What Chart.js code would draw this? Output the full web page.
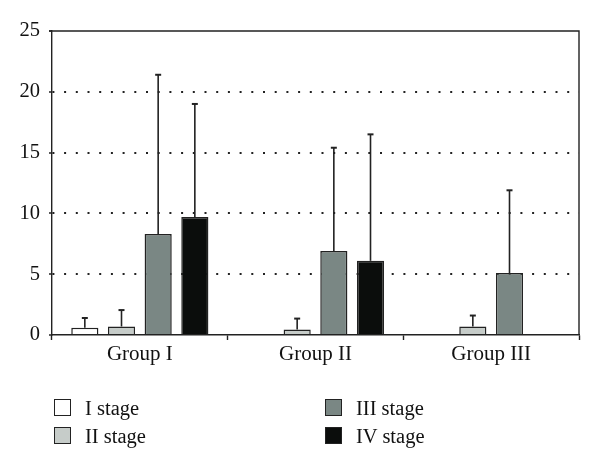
<!DOCTYPE html>
<html>
<head>
<meta charset="utf-8">
<script src="https://cdn.jsdelivr.net/npm/chart.js@4"></script>
<style>
  html, body { margin: 0; padding: 0; background: #fff; }
  #wrap { position: relative; width: 600px; height: 470px; }
  #c { position: absolute; left: 0; top: 0; }
  .lg { position: absolute; font-family: "Liberation Serif", serif; font-size: 20.5px; line-height: 20px; color: #111; white-space: nowrap; }
  .bx { position: absolute; width: 15px; height: 15px; border: 1.5px solid #222; }
</style>
</head>
<body>
<div id="wrap">
  <canvas id="c" width="600" height="470"></canvas>
</div>
<script>
// ---- data ----
const categories = ["Group I", "Group II", "Group III"];
const seriesNames = ["I stage", "II stage", "III stage", "IV stage"];
const stageI   = [0.6, null, null];
const stageII  = [0.7, 0.45, 0.7];
const stageIII = [8.3, 6.9, 5.1];
const stageIV  = [9.7, 6.1, null];
const sdI   = [0.8, null, null];
const sdII  = [1.35, 0.9, 0.9];
const sdIII = [13.1, 8.5, 6.8];
const sdIV  = [9.3, 10.4, null];
const yTicks = [0, 5, 10, 15, 20, 25];

// ---- styles ----
const fills = ["#ffffff", "#c6ccc9", "#7a8784", "#0b0d0c"];
const values = [stageI, stageII, stageIII, stageIV];
const sds = [sdI, sdII, sdIII, sdIV];

const datasets = seriesNames.map((n, i) => ({
  label: n,
  data: values[i],
  sd: sds[i],
  backgroundColor: fills[i],
  borderColor: "#222",
  borderWidth: 1.5,
  barPercentage: 0.74,
  categoryPercentage: 0.835
}));

const errorBars = {
  id: "errorBars",
  afterDatasetsDraw(chart) {
    const ctx = chart.ctx;
    const y = chart.scales.y;
    ctx.save();
    ctx.strokeStyle = "#222";
    ctx.lineWidth = 1.6;
    chart.data.datasets.forEach((ds, i) => {
      const meta = chart.getDatasetMeta(i);
      ds.data.forEach((v, j) => {
        const s = ds.sd[j];
        if (v == null || s == null) return;
        const x = meta.data[j].x;
        const y0 = y.getPixelForValue(v);
        const y1 = y.getPixelForValue(v + s);
        ctx.beginPath();
        ctx.moveTo(x, y0); ctx.lineTo(x, y1);
        ctx.stroke();
        ctx.lineWidth = 2;
        ctx.beginPath();
        ctx.moveTo(x - 3, y1); ctx.lineTo(x + 3, y1);
        ctx.stroke();
        ctx.lineWidth = 1.6;
      });
    });
    ctx.restore();
  }
};

const frame = {
  id: "frame",
  afterDraw(chart) {
    const a = chart.chartArea, ctx = chart.ctx;
    ctx.save();
    ctx.strokeStyle = "#222";
    ctx.lineWidth = 1.4;
    ctx.beginPath();
    ctx.moveTo(a.left - 3, a.top); ctx.lineTo(a.right, a.top); ctx.lineTo(a.right, a.bottom);
    ctx.stroke();
    ctx.restore();
  }
};

new Chart(document.getElementById("c"), {
  type: "bar",
  data: { labels: categories, datasets },
  plugins: [errorBars, frame],
  options: {
    responsive: false,
    animation: false,
    layout: { padding: { top: 31, right: 21, bottom: 0, left: 0 } },
    plugins: { legend: { display: false }, tooltip: { enabled: false } },
    scales: {
      x: {
        afterFit(s) { s.height = 470 - 335 - 0; },
        grid: { offset: true, drawOnChartArea: false, drawTicks: true, tickLength: 5, tickColor: "#222", tickWidth: 1.4 },
        border: { display: true, color: "#222", width: 1.4 },
        ticks: { color: "#111", font: { family: "Liberation Serif", size: 21 }, padding: 2 }
      },
      y: {
        min: 0, max: 25,
        afterFit(s) { s.width = 52; },
        afterBuildTicks(s) { s.ticks = yTicks.map(v => ({ value: v })); },
        grid: {
          color: c => (c.tick && (c.tick.value === 0 || c.tick.value === 25)) ? "rgba(0,0,0,0)" : "#222",
          lineWidth: 2,
          drawTicks: true, tickLength: 3, tickColor: "#222", tickWidth: 1.4
        },
        border: { display: true, color: "#222", width: 1.4, dash: [2, 9.7] },
        ticks: { color: "#111", font: { family: "Liberation Serif", size: 20.5 }, padding: 9 }
      }
    }
  }
});

// HTML legend built from series names
const wrap = document.getElementById("wrap");
const pos = [[54, 399], [54, 427], [325, 399], [325, 427]];
seriesNames.forEach((n, i) => {
  const b = document.createElement("div");
  b.className = "bx";
  b.style.left = pos[i][0] + "px";
  b.style.top = pos[i][1] + "px";
  b.style.background = fills[i];
  wrap.appendChild(b);
  const t = document.createElement("div");
  t.className = "lg";
  t.textContent = n;
  t.style.left = (pos[i][0] + 31) + "px";
  t.style.top = (pos[i][1] - 1) + "px";
  wrap.appendChild(t);
});
</script>
</body>
</html>
